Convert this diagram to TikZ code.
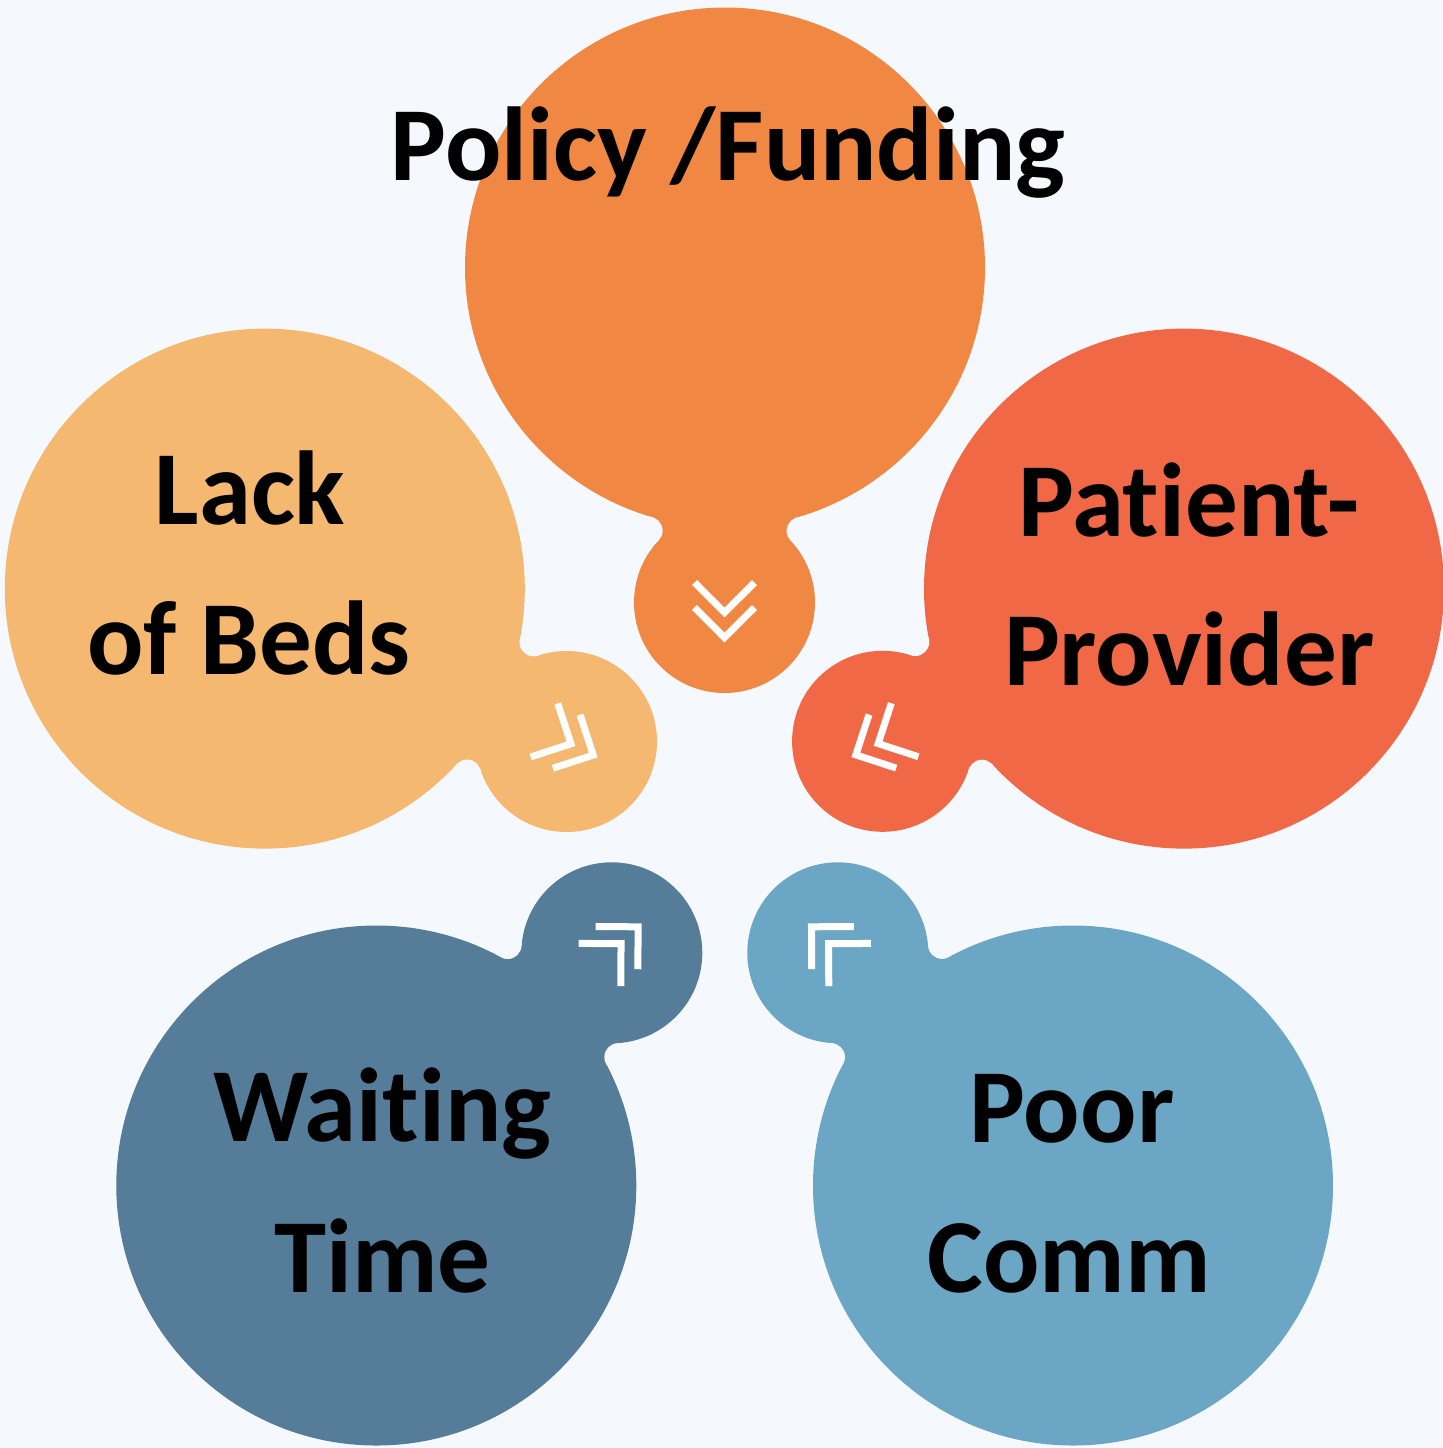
\documentclass[tikz,border=0pt]{standalone}
\usepackage{fontspec}
\setmainfont{Carlito}[RawFeature={-liga,-dlig,-clig,-calt}]
\usetikzlibrary{calc}
\definecolor{bgc}{HTML}{F5F9FD}
\definecolor{cTop}{HTML}{F08844}
\definecolor{cLeft}{HTML}{F4B870}
\definecolor{cRight}{HTML}{F06845}
\definecolor{cBL}{HTML}{557C99}
\definecolor{cBR}{HTML}{6CA6C5}
\def\BR{2.6}
\def\Br{0.905}
\def\Bf{0.14}
\def\Ca{0.30}
% #1,#2 big centre; #3,#4 small centre; #5 colour; #6,#7 chevron tip offsets
\newcommand\bubble[7]{%
  \pgfmathsetmacro\bdx{#3-#1}%
  \pgfmathsetmacro\bdy{#4-#2}%
  \pgfmathsetmacro\bd{sqrt(\bdx*\bdx+\bdy*\bdy)}%
  \pgfmathsetmacro\bux{\bdx/\bd}%
  \pgfmathsetmacro\buy{\bdy/\bd}%
  \pgfmathsetmacro\ba{((\BR+\Bf)*(\BR+\Bf)-(\Br+\Bf)*(\Br+\Bf)+\bd*\bd)/(2*\bd)}%
  \pgfmathsetmacro\bb{sqrt((\BR+\Bf)*(\BR+\Bf)-\ba*\ba)}%
  \pgfmathsetmacro\fpx{#1+\ba*\bux-\bb*\buy}%
  \pgfmathsetmacro\fpy{#2+\ba*\buy+\bb*\bux}%
  \pgfmathsetmacro\fmx{#1+\ba*\bux+\bb*\buy}%
  \pgfmathsetmacro\fmy{#2+\ba*\buy-\bb*\bux}%
  \pgfmathsetmacro\kR{\BR/(\BR+\Bf)}%
  \pgfmathsetmacro\kr{\Br/(\Br+\Bf)}%
  \fill[#5] (#1,#2) circle[radius=\BR];
  \fill[#5] (#3,#4) circle[radius=\Br];
  \fill[#5] ($(#1,#2)!\kR!(\fpx,\fpy)$) -- ($(#3,#4)!\kr!(\fpx,\fpy)$)
    -- ($(#3,#4)!\kr!(\fmx,\fmy)$) -- ($(#1,#2)!\kR!(\fmx,\fmy)$) -- cycle;
  \fill[bgc] (\fpx,\fpy) circle[radius=\Bf];
  \fill[bgc] (\fmx,\fmy) circle[radius=\Bf];
  \foreach \s in {#6,#7}{%
    \draw[chev] ({#3+\s*\bux+\Ca*(-\bux-\buy)},{#4+\s*\buy+\Ca*(-\buy+\bux)})
      -- ({#3+\s*\bux},{#4+\s*\buy})
      -- ({#3+\s*\bux+\Ca*(-\bux+\buy)},{#4+\s*\buy+\Ca*(-\buy-\bux)});
  }%
}
\begin{document}
\begin{tikzpicture}[x=1cm,y=-1cm,
  lbl/.style={font=\fontsize{29.9}{36}\selectfont\bfseries, inner sep=0pt, anchor=base, text=black},
  chev/.style={draw=white, line width=0.07cm, line join=miter, line cap=butt}]
\fill[bgc] (0,0) rectangle (14.42,14.48);
\useasboundingbox (0,0) rectangle (14.42,14.48);
\bubble{7.25}{2.675}{7.245}{6.025}{cTop}{0.10}{0.35}
\bubble{2.648}{5.886}{5.665}{7.415}{cLeft}{0.05}{0.30}
\bubble{11.84}{5.886}{8.826}{7.413}{cRight}{0.05}{0.30}
\bubble{3.763}{11.855}{6.118}{9.528}{cBL}{0.13}{0.37}
\bubble{10.73}{11.855}{8.378}{9.528}{cBR}{0.13}{0.37}
\node[lbl] (policy) at (7.28,1.80) {Policy /Funding};
\node[lbl] (lack1) at (2.50,5.24) {Lack};
\node[lbl] (lack2) at (2.49,6.74) {of Beds};
\node[lbl] (pat1) at (11.888,5.363) {Pat\kern0pt ient-};
\node[lbl] (pat2) at (11.892,6.857) {Provider};
\node[lbl] (wait1) at (3.823,11.414) {Wait\kern0pt ing};
\node[lbl] (wait2) at (3.823,12.929) {Time};
\node[lbl] (poor1) at (10.72,11.424) {Poor};
\node[lbl] (poor2) at (10.69,12.929) {Comm};
\end{tikzpicture}
\end{document}
